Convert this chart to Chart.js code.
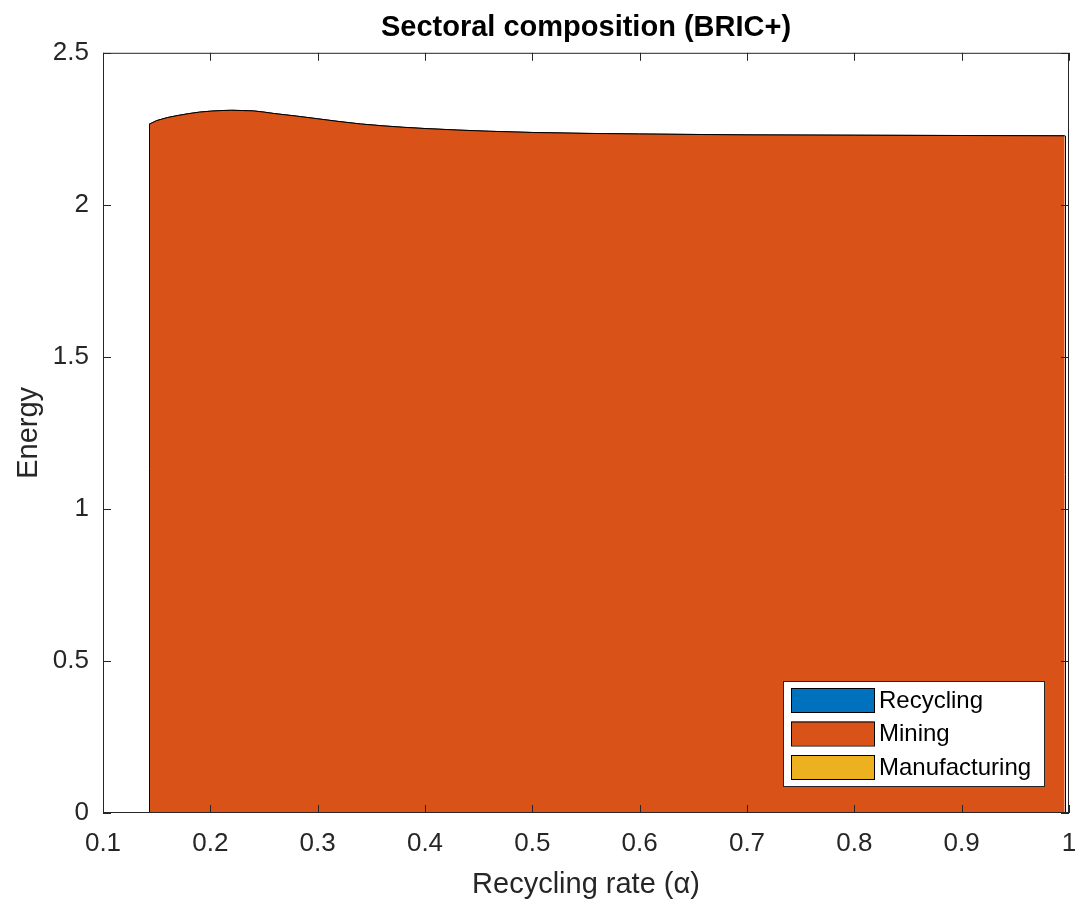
<!DOCTYPE html>
<html>
<head>
<meta charset="utf-8">
<title>Sectoral composition (BRIC+)</title>
<script src="https://cdn.jsdelivr.net/npm/chart.js@4.4.1/dist/chart.umd.min.js"></script>
<style>
  html, body { margin: 0; padding: 0; background: #fff; }
  #wrap { width: 1078px; height: 905px; }
</style>
</head>
<body>
<div id="wrap"><canvas id="chart" width="1078" height="905"></canvas></div>
<script>
// values
const alpha = [0.143, 0.15, 0.16, 0.17, 0.18, 0.19, 0.20, 0.21, 0.22, 0.23, 0.24, 0.25, 0.26, 0.28,
  0.30, 0.32, 0.34, 0.36, 0.38, 0.40, 0.43, 0.46, 0.50, 0.55, 0.60, 0.70, 0.80, 0.90, 0.996];
const recycling = [0, 0, 0, 0, 0, 0, 0, 0, 0, 0, 0, 0, 0, 0,
  0, 0, 0, 0, 0, 0, 0, 0, 0, 0, 0, 0, 0, 0, 0];
const mining = [2.265, 2.277, 2.287, 2.294, 2.300, 2.305, 2.308, 2.310, 2.311, 2.310, 2.309, 2.305, 2.300, 2.292,
  2.283, 2.274, 2.266, 2.260, 2.255, 2.251, 2.246, 2.242, 2.238, 2.235, 2.233, 2.230, 2.229, 2.228, 2.227];
const manufacturing = [0, 0, 0, 0, 0, 0, 0, 0, 0, 0, 0, 0, 0, 0,
  0, 0, 0, 0, 0, 0, 0, 0, 0, 0, 0, 0, 0, 0, 0];

const seriesNames = ['Recycling', 'Mining', 'Manufacturing'];
const xTicks = [0.1, 0.2, 0.3, 0.4, 0.5, 0.6, 0.7, 0.8, 0.9, 1];
const yTicks = [0, 0.5, 1, 1.5, 2, 2.5];

const COLORS = ['#0072BD', '#D95319', '#EDB120'];
const AXIS = '#262626';
const FONT = "'Liberation Sans', Arial, Helvetica, sans-serif";

function points(ys) {
  return alpha.map((x, i) => ({ x, y: ys[i] }));
}

function areaDataset(i, ys, fill) {
  return {
    label: seriesNames[i],
    data: points(ys),
    backgroundColor: COLORS[i],
    borderColor: '#000',
    borderWidth: 1,
    pointRadius: 0,
    tension: 0,
    fill,
  };
}

// MATLAB-like box, inward ticks and the vertical edges of the area patch
const axesBox = {
  id: 'axesBox',
  afterDatasetsDraw(chart) {
    const { ctx, chartArea: a, scales: { x, y } } = chart;
    const line = (x1, y1, x2, y2) => { ctx.beginPath(); ctx.moveTo(x1, y1); ctx.lineTo(x2, y2); ctx.stroke(); };
    ctx.save();

    // left / right edges of the stacked area
    ctx.strokeStyle = '#000';
    ctx.lineWidth = 1;
    [0, alpha.length - 1].forEach((i) => {
      const px = Math.round(x.getPixelForValue(alpha[i])) + 0.5;
      const top = recycling[i] + mining[i] + manufacturing[i];
      line(px, y.getPixelForValue(0), px, y.getPixelForValue(top));
    });

    ctx.strokeStyle = AXIS;
    ctx.strokeRect(a.left + 0.5, a.top + 0.5, a.right - a.left - 1, a.bottom - a.top - 1);
    const tl = 8;
    x.ticks.forEach((t) => {
      const px = Math.round(x.getPixelForValue(t.value)) + 0.5;
      line(px, a.bottom, px, a.bottom - tl);
      line(px, a.top, px, a.top + tl);
    });
    y.ticks.forEach((t) => {
      const py = Math.round(y.getPixelForValue(t.value)) + 0.5;
      line(a.left, py, a.left + tl, py);
      line(a.right, py, a.right - tl, py);
    });
    ctx.restore();
  },
};

// legend box in the lower right corner of the axes
const boxLegend = {
  id: 'boxLegend',
  afterDraw(chart) {
    const { ctx, chartArea: a } = chart;
    const w = 261, h = 105;
    const left = a.right - 25 - w, top = a.bottom - 27 - h;
    ctx.save();
    ctx.fillStyle = '#fff';
    ctx.fillRect(left, top, w, h);
    ctx.strokeStyle = AXIS;
    ctx.lineWidth = 1;
    ctx.strokeRect(left + 0.5, top + 0.5, w, h);
    ctx.font = '24px ' + FONT;
    ctx.textBaseline = 'middle';
    chart.data.datasets.forEach((ds, i) => {
      const cy = top + 19 + i * 33.5;
      ctx.fillStyle = ds.backgroundColor;
      ctx.fillRect(left + 8, cy - 12, 83, 24);
      ctx.strokeStyle = '#000';
      ctx.strokeRect(left + 8.5, cy - 11.5, 83, 24);
      ctx.fillStyle = '#000';
      ctx.fillText(ds.label, left + 96, cy + 1);
    });
    ctx.restore();
  },
};

new Chart(document.getElementById('chart'), {
  type: 'line',
  data: {
    datasets: [
      areaDataset(0, recycling, 'origin'),
      areaDataset(1, mining, '-1'),
      areaDataset(2, manufacturing, '-1'),
    ],
  },
  options: {
    responsive: false,
    devicePixelRatio: 1,
    animation: false,
    layout: { padding: { top: 0, right: 9, bottom: 0, left: 0 } },
    plugins: {
      legend: { display: false },
      tooltip: { enabled: false },
      title: {
        display: true,
        text: 'Sectoral composition (BRIC+)',
        fullSize: false,
        color: '#000',
        font: { family: FONT, size: 29, weight: 'bold' },
        padding: { top: 11, bottom: 7 },
      },
    },
    scales: {
      x: {
        type: 'linear',
        min: 0.1,
        max: 1,
        afterBuildTicks: (s) => { s.ticks = xTicks.map((v) => ({ value: v })); },
        afterFit: (s) => { s.height = 92; s.paddingLeft = 0; s.paddingRight = 0; },
        grid: { display: false, drawTicks: false },
        border: { display: false },
        ticks: {
          color: AXIS,
          padding: 15,
          maxRotation: 0,
          font: { family: FONT, size: 26 },
          callback: (v) => String(v),
        },
        title: {
          display: true,
          text: 'Recycling rate (α)',
          color: AXIS,
          font: { family: FONT, size: 29 },
          padding: { top: 0, bottom: 3 },
        },
      },
      y: {
        stacked: true,
        min: 0,
        max: 2.5,
        afterBuildTicks: (s) => { s.ticks = yTicks.map((v) => ({ value: v })); },
        afterFit: (s) => { s.width = 103; s.paddingTop = 0; s.paddingBottom = 0; },
        grid: { display: false, drawTicks: false },
        border: { display: false },
        ticks: {
          color: AXIS,
          padding: 14,
          font: { family: FONT, size: 26 },
          callback: (v) => String(v),
        },
        title: {
          display: true,
          text: 'Energy',
          color: AXIS,
          font: { family: FONT, size: 29 },
          padding: { top: 12, bottom: 0 },
        },
      },
    },
  },
  plugins: [axesBox, boxLegend],
});
</script>
</body>
</html>
